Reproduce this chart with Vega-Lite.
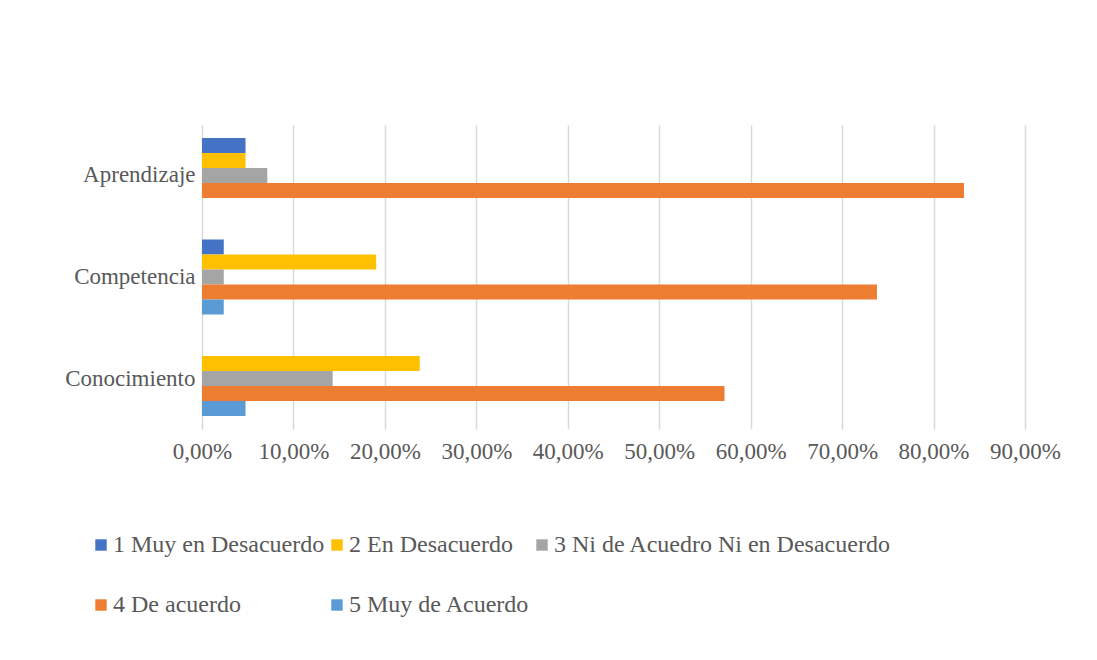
{
  "$schema": "https://vega.github.io/schema/vega-lite/v6.json",
  "width": 823,
  "height": 304,
  "autosize": {"type": "none"},
  "padding": {"left": 202, "top": 125, "right": 72, "bottom": 231},
  "background": "white",
  "config": {"font": "Liberation Serif", "view": {"stroke": null}},
  "data": {
    "values": [
      {"Dimension": "Aprendizaje", "Nivel": "1 Muy en Desacuerdo", "Porcentaje": 0.0476},
      {"Dimension": "Aprendizaje", "Nivel": "2 En Desacuerdo", "Porcentaje": 0.0476},
      {"Dimension": "Aprendizaje", "Nivel": "3 Ni de Acuedro Ni en Desacuerdo", "Porcentaje": 0.0714},
      {"Dimension": "Aprendizaje", "Nivel": "4 De acuerdo", "Porcentaje": 0.8333},
      {"Dimension": "Aprendizaje", "Nivel": "5 Muy de Acuerdo", "Porcentaje": 0.0},
      {"Dimension": "Competencia", "Nivel": "1 Muy en Desacuerdo", "Porcentaje": 0.0238},
      {"Dimension": "Competencia", "Nivel": "2 En Desacuerdo", "Porcentaje": 0.1905},
      {"Dimension": "Competencia", "Nivel": "3 Ni de Acuedro Ni en Desacuerdo", "Porcentaje": 0.0238},
      {"Dimension": "Competencia", "Nivel": "4 De acuerdo", "Porcentaje": 0.7381},
      {"Dimension": "Competencia", "Nivel": "5 Muy de Acuerdo", "Porcentaje": 0.0238},
      {"Dimension": "Conocimiento", "Nivel": "1 Muy en Desacuerdo", "Porcentaje": 0.0},
      {"Dimension": "Conocimiento", "Nivel": "2 En Desacuerdo", "Porcentaje": 0.2381},
      {"Dimension": "Conocimiento", "Nivel": "3 Ni de Acuedro Ni en Desacuerdo", "Porcentaje": 0.1429},
      {"Dimension": "Conocimiento", "Nivel": "4 De acuerdo", "Porcentaje": 0.5714},
      {"Dimension": "Conocimiento", "Nivel": "5 Muy de Acuerdo", "Porcentaje": 0.0476}
    ]
  },
  "mark": {"type": "bar"},
  "encoding": {
    "y": {
      "field": "Dimension",
      "type": "nominal",
      "sort": ["Aprendizaje", "Competencia", "Conocimiento"],
      "scale": {"paddingInner": 0.261, "paddingOuter": 0.128},
      "axis": {"title": null, "domain": false, "ticks": false, "labelFontSize": 23, "labelColor": "#595959", "labelPadding": 7}
    },
    "yOffset": {
      "field": "Nivel",
      "type": "nominal",
      "sort": ["1 Muy en Desacuerdo", "2 En Desacuerdo", "3 Ni de Acuedro Ni en Desacuerdo", "4 De acuerdo", "5 Muy de Acuerdo"],
      "scale": {"paddingInner": 0, "paddingOuter": 0}
    },
    "x": {
      "field": "Porcentaje",
      "type": "quantitative",
      "scale": {"domain": [0, 0.9]},
      "axis": {
        "title": null,
        "values": [0, 0.1, 0.2, 0.3, 0.4, 0.5, 0.6, 0.7, 0.8, 0.9],
        "labelExpr": "replace(format(datum.value, '.2%'), '.', ',')",
        "labelFlush": false,
        "domain": false,
        "ticks": false,
        "gridColor": "#D9D9D9",
        "gridWidth": 1.5,
        "labelFontSize": 23,
        "labelColor": "#595959",
        "labelPadding": 11
      }
    },
    "color": {
      "field": "Nivel",
      "type": "nominal",
      "sort": ["1 Muy en Desacuerdo", "2 En Desacuerdo", "3 Ni de Acuedro Ni en Desacuerdo", "4 De acuerdo", "5 Muy de Acuerdo"],
      "scale": {"range": ["#4472C4", "#FFC000", "#A5A5A5", "#ED7D31", "#5B9BD5"]},
      "legend": {
        "title": null,
        "orient": "none",
        "legendX": -113,
        "legendY": 408,
        "columns": 3,
        "direction": "horizontal",
        "symbolType": "square",
        "symbolSize": 130,
        "symbolStrokeWidth": 0,
        "labelFontSize": 24,
        "labelColor": "#595959",
        "columnPadding": -7,
        "rowPadding": 36,
        "labelOffset": 0,
        "labelLimit": 500
      }
    }
  }
}
